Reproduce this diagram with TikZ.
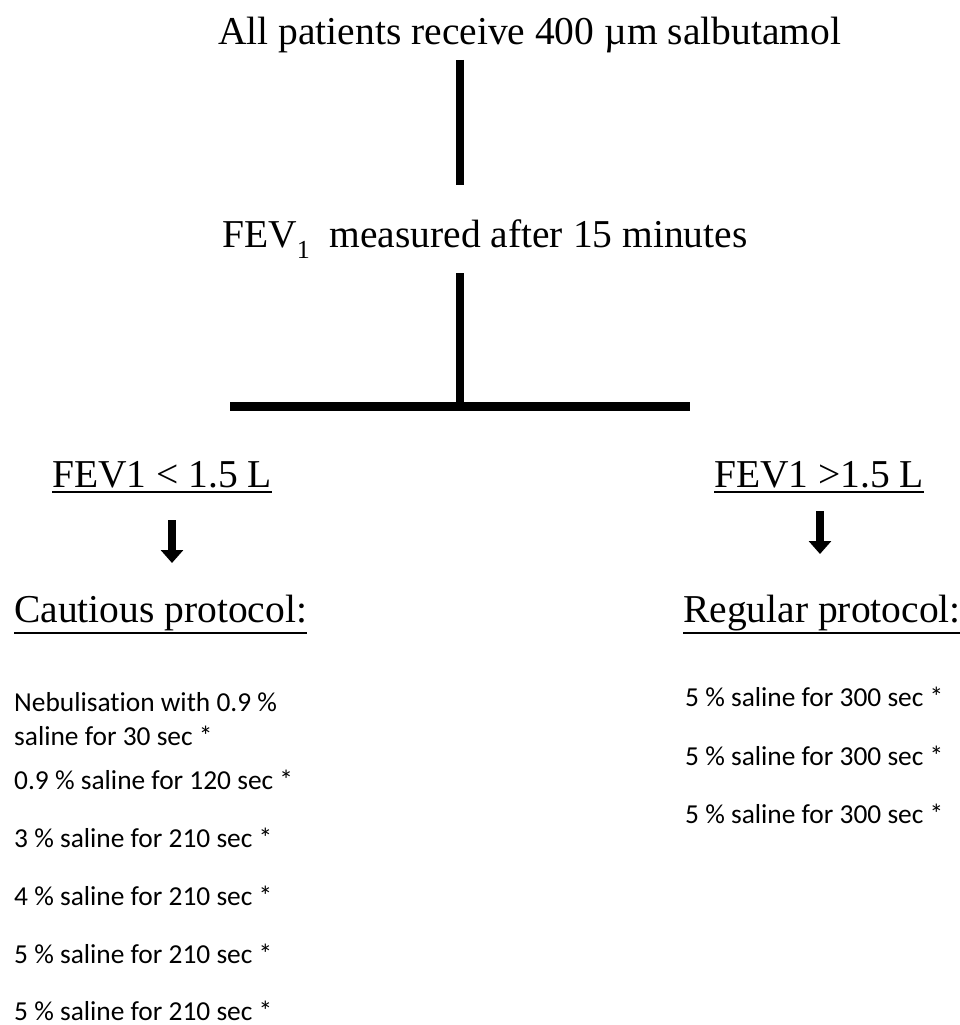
\documentclass[tikz,border=0pt]{standalone}
\usepackage{fontspec}
\setmainfont{Liberation Serif}
\newfontfamily\calib[RawFeature={-liga;-clig;-dlig}]{Carlito}
\usetikzlibrary{arrows.meta}
\newcommand{\myast}{*}
\begin{document}
\begin{tikzpicture}[x=1pt,y=-1pt,
  head/.style={inner sep=0pt,anchor=base west,font=\fontsize{39.5}{47}\selectfont},
  item/.style={inner sep=0pt,anchor=base west,font=\calib\fontsize{27.4}{34}\selectfont},
  bar/.style={line width=8pt},
  uline/.style={line width=2.2pt},
  blockarrow/.style={line width=7.5pt,-{Triangle[width=22pt,length=13pt]}}]
\useasboundingbox[fill=white] (0,0) rectangle (960,1025);
% headings
\node[head] (top) at (218,45) {All patients receive 400 µm salbutamol};
\node[head] (fev) at (222,247) {FEV\raisebox{-0.28em}{\fontsize{26}{30}\selectfont 1}\hspace{0.5em}measured after 15 minutes};
% tree lines
\coordinate (l1a) at (460,60);
\coordinate (l1b) at (460,185);
\coordinate (l2a) at (460,273);
\coordinate (l2b) at (460,406);
\coordinate (hl) at (230,406);
\coordinate (hr) at (690,406);
\draw[bar] (l1a) -- (l1b);
\draw[bar] (l2a) -- (l2b);
\draw[line width=9pt] (hl) -- (hr);
% branch headings
\node[head] (lowfev) at (52,487) {FEV1 < 1.5 L};
\node[head] (highfev) at (714,487) {FEV1 >1.5 L};
\draw[uline] ([yshift=-5pt]lowfev.base west) -- ([yshift=-5pt]lowfev.base east);
\draw[uline] ([yshift=-5pt]highfev.base west) -- ([yshift=-5pt]highfev.base east);
\coordinate (la1) at (172,520);
\coordinate (la2) at (172,563);
\coordinate (ra1) at (820,511);
\coordinate (ra2) at (820,554);
\draw[blockarrow] (la1) -- (la2);
\draw[blockarrow] (ra1) -- (ra2);
\node[head] (caut) at (14,622) {Cautious protocol:};
\node[head] (reg) at (683,622) {Regular protocol:};
\draw[uline] ([yshift=-11pt]caut.base west) -- ([yshift=-11pt]caut.base east);
\draw[uline] ([yshift=-11pt]reg.base west) -- ([yshift=-11pt]reg.base east);
% left list
\node[item] (c1) at (14,711) {Nebulisation with 0.9 \%};
\node[item] (c1b) at (14,745) {saline for 30 sec \myast};
\node[item] (c2) at (14,789) {0.9 \% saline for 120 sec \myast};
\node[item] (c3) at (14,847) {3 \% saline for 210 sec \myast};
\node[item] (c4) at (14,905) {4 \% saline for 210 sec \myast};
\node[item] (c5) at (14,963) {5 \% saline for 210 sec \myast};
\node[item] (c6) at (14,1020) {5 \% saline for 210 sec \myast};
% right list
\node[item] (r1) at (685,706) {5 \% saline for 300 sec \myast};
\node[item] (r2) at (685,765) {5 \% saline for 300 sec \myast};
\node[item] (r3) at (685,823) {5 \% saline for 300 sec \myast};
\end{tikzpicture}
\end{document}
